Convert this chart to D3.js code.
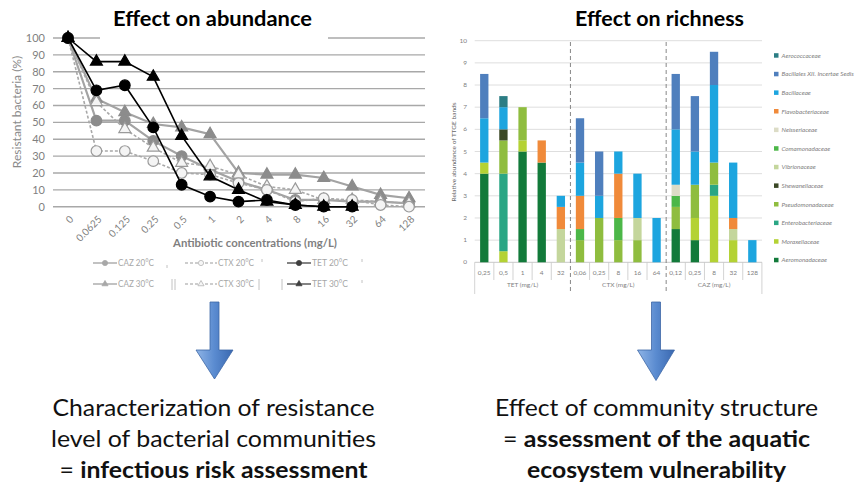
<!DOCTYPE html>
<html><head><meta charset="utf-8">
<script src="https://cdn.jsdelivr.net/npm/d3@7"></script>
<style>body{margin:0;background:#fff;} svg{display:block;font-family:Lato,"Open Sans",sans-serif;}</style>
</head><body><svg id="c" width="867" height="488"></svg>
<script>
// ---------- Left chart data ----------
const concLabels = ["0","0.0625","0.125","0.25","0.5","1","2","4","8","16","32","64","128"];
const yTicksLeft = [0,10,20,30,40,50,60,70,80,90,100];
const CAZ20 = [100,51,51,39,30,22,15,10,4,4,3,3,2];
const CAZ30 = [100,64,56,49,47,43,20,19,19,17,12,7,5];
const CTX20 = [100,33,33,27,20,19,14,10,3,5,4,1,0];
const CTX30 = [100,62,46,35,26,24,19,12,10,4,4,3,2];
const TET20 = [100,69,72,47,13,6,3,4,1,0,0];
const TET30 = [100,86,86,77,42,18,10,3,1,0,0];
const seriesNames = ["CAZ 30°C","CAZ 20°C","CTX 30°C","CTX 20°C","TET 30°C","TET 20°C"];

// ---------- Right chart data ----------
const barCats = ["0,25","0,5","1","4","32","0,06","0,25","8","16","64","0,12","0,25","8","32","128"];
const barGroups = ["TET (mg/L)","CTX (mg/L)","CAZ (mg/L)"];
const yTicksRight = [0,1,2,3,4,5,6,7,8,9,10];
const families = ["Aerococcaceae","Bacillales XII. Incertae Sedis","Bacillaceae","Flavobacteriaceae","Neisseriaceae","Comamonadaceae","Vibrionaceae","Shewanellaceae","Pseudomonadaceae","Enterobacteriaceae","Moraxellaceae","Aeromonadaceae"];
const familyColors = ["#2b7d84","#4f7fbd","#1da5df","#f08a3a","#dcdcc6","#4cb748","#c4d69c","#3b4826","#8fbd3f","#2aa684","#b4d234","#127a3a"];
const aerococcaceae      = [0,0.5,0,0,0, 0,0,0,0,0, 0,0,0,0,0];
const bacillalesXII      = [2,0,0,0,0, 2,2,0,0,0, 2.5,2.5,1.5,0,0];
const bacillaceae        = [2,1,0,0,0.5, 1.5,1,1,2,2, 2.5,1.5,3.5,2.5,1];
const flavobacteriaceae  = [0,0,0,1,1, 1.5,0,2,0,0, 0,0,0,0.5,0];
const neisseriaceae      = [0,0,0,0,0, 0,0,0,0,0, 0.5,0,0,0,0];
const comamonadaceae     = [0,0,0,0,0, 0.5,0,1,0,0, 0.5,0,0,0,0];
const vibrionaceae       = [0,0,0,0,1.5, 0,0,0,1,0, 0,0,0,0.5,0];
const shewanellaceae     = [0,0.5,0,0,0, 0,0,0,0,0, 0,0,0,0,0];
const pseudomonadaceae   = [0,1.5,1.5,0,0, 1,2,1,1,0, 1,1.5,1,0,0];
const enterobacteriaceae = [0,3.5,0,0,0, 0,0,0,0,0, 0,0,0.5,0,0];
const moraxellaceae      = [0.5,0.5,0.5,0,0, 0,0,0,0,0, 0,1,3,1,0];
const aeromonadaceae     = [4,0,5,4.5,0, 0,0,0,0,0, 1.5,1,0,0,0];
const familyValues = [aerococcaceae,bacillalesXII,bacillaceae,flavobacteriaceae,neisseriaceae,comamonadaceae,vibrionaceae,shewanellaceae,pseudomonadaceae,enterobacteriaceae,moraxellaceae,aeromonadaceae];

const svg = d3.select("#c");
const gray = "#7f7f7f";

// ================= LEFT CHART =================
const xL = d3.scalePoint().domain(concLabels).range([68,409]);
const yL = d3.scaleLinear().domain([0,100]).range([206.7,38]);
const gL = svg.append("g");
gL.selectAll("line.g").data(yTicksLeft).join("line")
  .attr("x1",53).attr("x2",425).attr("y1",d=>yL(d)).attr("y2",d=>yL(d))
  .attr("stroke","#a8a8a8").attr("stroke-width",1.4);
// title background (hides part of the top gridline as in the original)
svg.append("rect").attr("x",100).attr("y",0).attr("width",228).attr("height",42).attr("fill","#fff");
svg.append("text").attr("x",212.5).attr("y",26).attr("text-anchor","middle")
  .attr("font-weight","bold").attr("font-size",20).attr("textLength",199).attr("lengthAdjust","spacingAndGlyphs")
  .text("Effect on abundance");
gL.selectAll("text.yt").data(yTicksLeft).join("text")
  .attr("x",45).attr("y",d=>yL(d)+4).attr("text-anchor","end").attr("font-size",11).attr("fill",gray).text(d=>d);
gL.selectAll("text.xt").data(concLabels).join("text")
  .attr("transform",d=>`translate(${xL(d)+6},220) rotate(-45)`).attr("text-anchor","end")
  .attr("font-size",10).attr("fill",gray).text(d=>d);
gL.append("text").attr("transform","translate(21,112) rotate(-90)").attr("text-anchor","middle")
  .attr("font-size",12).attr("fill","#8a8a8a").text("Resistant  bacteria (%)");
gL.append("text").attr("x",255).attr("y",246.5).attr("text-anchor","middle")
  .attr("font-size",12).attr("fill",gray).attr("font-weight","bold").attr("textLength",164).attr("lengthAdjust","spacingAndGlyphs")
  .text("Antibiotic concentrations (mg/L)");

const styles = {
  "CAZ 30°C":{vals:CAZ30, stroke:"#a3a3a3", w:2.2, dash:null, shape:"tri", fill:"#8c8c8c", mstroke:"#8c8c8c"},
  "CAZ 20°C":{vals:CAZ20, stroke:"#a3a3a3", w:2.2, dash:null, shape:"circ", fill:"#8c8c8c", mstroke:"#8c8c8c"},
  "CTX 30°C":{vals:CTX30, stroke:"#a8a8a8", w:1.6, dash:"3,2", shape:"tri", fill:"#f4f4f4", mstroke:"#9a9a9a"},
  "CTX 20°C":{vals:CTX20, stroke:"#a8a8a8", w:1.6, dash:"3,2", shape:"circ", fill:"#f4f4f4", mstroke:"#9a9a9a"},
  "TET 30°C":{vals:TET30, stroke:"#000", w:1.6, dash:null, shape:"tri", fill:"#000", mstroke:"#000"},
  "TET 20°C":{vals:TET20, stroke:"#000", w:1.6, dash:null, shape:"circ", fill:"#000", mstroke:"#000"}
};
const line = d3.line().x((d,i)=>xL(concLabels[i])).y(d=>yL(d));
const tri = d3.symbol().type(d3.symbolTriangle).size(62);
seriesNames.forEach(n=>{
  const s = styles[n];
  gL.append("path").attr("d",line(s.vals)).attr("fill","none").attr("stroke",s.stroke)
    .attr("stroke-width",s.w).attr("stroke-dasharray",s.dash);
  const m = gL.append("g");
  s.vals.forEach((v,i)=>{
    const x = xL(concLabels[i]), y = yL(v);
    if (s.shape==="circ") m.append("circle").attr("cx",x).attr("cy",y).attr("r",5.3)
      .attr("fill",s.fill).attr("stroke",s.mstroke).attr("stroke-width",1.2);
    else m.append("path").attr("d",tri()).attr("transform",`translate(${x},${y})`)
      .attr("fill",s.fill).attr("stroke",s.mstroke).attr("stroke-width",1.2);
  });
});
// legend
const legPos = {"CAZ 20°C":[93,263],"CTX 20°C":[185,263],"TET 20°C":[287,263],
                "CAZ 30°C":[93,284],"CTX 30°C":[185,284],"TET 30°C":[287,284]};
const lg = svg.append("g").attr("opacity",0.75);
Object.keys(legPos).forEach(n=>{
  const s = styles[n], [x,y] = legPos[n];
  const len = n.startsWith("CTX") ? 32 : 24;
  lg.append("line").attr("x1",x).attr("x2",x+len).attr("y1",y).attr("y2",y)
    .attr("stroke",s.stroke).attr("stroke-width",s.w*0.8).attr("stroke-dasharray",s.dash);
  const mx = x+len/2;
  if (s.shape==="circ") lg.append("circle").attr("cx",mx).attr("cy",y).attr("r",2.6)
    .attr("fill",s.fill).attr("stroke",s.mstroke).attr("stroke-width",0.8);
  else lg.append("path").attr("d",d3.symbol().type(d3.symbolTriangle).size(16)()).attr("transform",`translate(${mx},${y})`)
    .attr("fill",s.fill).attr("stroke",s.mstroke).attr("stroke-width",0.8);
  lg.append("text").attr("x",x+len+1).attr("y",y+3).attr("font-size",9).attr("fill","#8a8a8a")
    .attr("textLength",36).attr("lengthAdjust","spacingAndGlyphs").text(n);
});
[[172,279,290],[175,279,290],[259,279,290],[282,279,290],[167,265,268],[262,259,262],[362,259,262],[362,280,283]].forEach(d=>{
  lg.append("line").attr("x1",d[0]).attr("x2",d[0]).attr("y1",d[1]).attr("y2",d[2]).attr("stroke","#999").attr("stroke-width",0.8);
});

// ================= RIGHT CHART =================
const xR = d3.scaleBand().domain(d3.range(barCats.length)).range([474.7,761.9]).paddingInner(0.565).paddingOuter(0.2825);
const yR = d3.scaleLinear().domain([0,10]).range([262.3,40.7]);
const gR = svg.append("g");
gR.selectAll("line.g").data(yTicksRight.slice(1)).join("line")
  .attr("x1",474.7).attr("x2",762).attr("y1",d=>yR(d)).attr("y2",d=>yR(d))
  .attr("stroke","#dedede").attr("stroke-width",1);
gR.append("line").attr("x1",474.7).attr("x2",762).attr("y1",yR(0)).attr("y2",yR(0)).attr("stroke","#c8c8c8");
gR.selectAll("text.yt").data(yTicksRight).join("text")
  .attr("x",467).attr("y",d=>yR(d)+2).attr("text-anchor","end").attr("font-size",6.5).attr("fill",gray).text(d=>d);
gR.append("text").attr("transform","translate(456,152) rotate(-90)").attr("text-anchor","middle")
  .attr("font-size",6.5).attr("fill","#666").text("Relative abundance of TTGE bands");
svg.append("text").attr("x",659.5).attr("y",26).attr("text-anchor","middle")
  .attr("font-weight","bold").attr("font-size",20).attr("textLength",169).attr("lengthAdjust","spacingAndGlyphs")
  .text("Effect on richness");

const rows = barCats.map((c,i)=>{ const o={i}; families.forEach((f,k)=>o[f]=familyValues[k][i]); return o; });
const stackKeys = families.slice().reverse();
const stacked = d3.stack().keys(stackKeys)(rows);
stacked.forEach(layer=>{
  const col = familyColors[families.indexOf(layer.key)];
  gR.append("g").selectAll("rect").data(layer.filter(d=>d[1]-d[0]>0)).join("rect")
    .attr("x",d=>xR(d.data.i)).attr("width",xR.bandwidth())
    .attr("y",d=>yR(d[1])).attr("height",d=>yR(d[0])-yR(d[1])).attr("fill",col);
});
// category axis
const step = xR.step();
for (let k=0;k<=barCats.length;k++){
  const x = 474.7 + k*step;
  const isGroup = (k%5===0);
  if (isGroup && k>0 && k<barCats.length) continue;
  gR.append("line").attr("x1",x).attr("x2",x).attr("y1",262.3).attr("y2",isGroup?294:280).attr("stroke","#c8c8c8").attr("stroke-width",0.8);
}
gR.selectAll("text.xc").data(barCats).join("text")
  .attr("x",(d,i)=>xR(i)+xR.bandwidth()/2).attr("y",275).attr("text-anchor","middle")
  .attr("font-size",6.5).attr("fill",gray).text(d=>d);
gR.selectAll("text.gr").data(barGroups).join("text")
  .attr("x",(d,i)=>474.7+(i*5+2.5)*step).attr("y",287).attr("text-anchor","middle")
  .attr("font-size",6.5).attr("fill",gray).text(d=>d);
[5,10].forEach(k=>{
  const x = 474.7 + k*step;
  gR.append("line").attr("x1",x).attr("x2",x).attr("y1",42).attr("y2",294)
    .attr("stroke","#7a7a7a").attr("stroke-width",0.9).attr("stroke-dasharray","4,3");
});
// legend
const rl = svg.append("g");
families.forEach((f,k)=>{
  const y = 55.7 + k*18.6;
  rl.append("rect").attr("x",774).attr("y",y-2.5).attr("width",4.5).attr("height",4.5).attr("fill",familyColors[k]);
  rl.append("text").attr("x",781.5).attr("y",y+2).attr("font-size",6.3).attr("font-style","italic").attr("fill","#808080").text(f);
});

// ================= ARROWS =================
const defs = svg.append("defs");
const gr = defs.append("linearGradient").attr("id","ag").attr("x1","0").attr("x2","1").attr("y1","0").attr("y2","0");
gr.append("stop").attr("offset","0").attr("stop-color","#8fb4e6");
gr.append("stop").attr("offset","0.5").attr("stop-color","#5a8bd0");
gr.append("stop").attr("offset","1").attr("stop-color","#3a68b0");
[[214.5,302,350,379],[656,302,350,380.5]].forEach(([cx,top,hy,tip])=>{
  const p = `M${cx-4.5},${top} L${cx+4.5},${top} L${cx+4.5},${hy} L${cx+18.5},${hy} L${cx},${tip} L${cx-18.5},${hy} L${cx-4.5},${hy} Z`;
  svg.append("path").attr("d",p).attr("fill","url(#ag)").attr("stroke","#3d67a6").attr("stroke-width",0.8);
});

// ================= BOTTOM TEXT =================
function block(cx, lines){
  lines.forEach(l=>{
    const t = svg.append("text").attr("x",cx).attr("y",l.y).attr("text-anchor","middle")
      .attr("font-size",22.5).attr("fill","#111").attr("textLength",l.w).attr("lengthAdjust","spacingAndGlyphs");
    if (l.eq){ t.append("tspan").text("= "); t.append("tspan").attr("font-weight","bold").text(l.t); }
    else t.append("tspan").attr("font-weight",l.b?"bold":"normal").text(l.t);
  });
}
block(213.5,[{t:"Characterization of resistance",y:416,w:322},{t:"level of bacterial communities",y:447,w:325},{t:"infectious risk assessment",y:477.5,w:308,eq:true}]);
block(656.5,[{t:"Effect of community structure",y:416,w:323},{t:"assessment of the aquatic",y:447,w:307,eq:true},{t:"ecosystem vulnerability",y:477.5,w:259,b:true}]);
</script></body></html>
